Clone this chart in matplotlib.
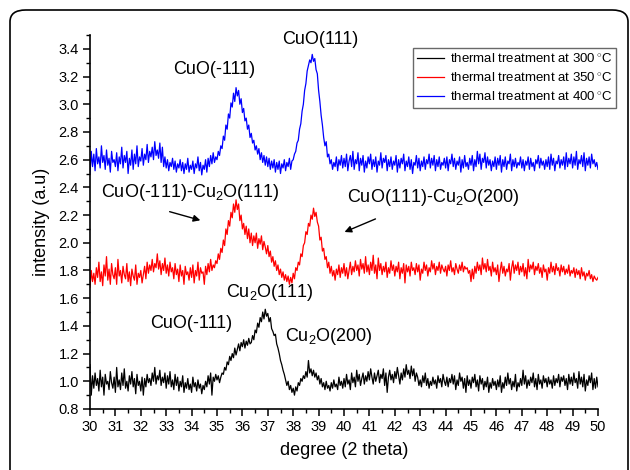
import numpy as np
import matplotlib
matplotlib.use("Agg")
import matplotlib.pyplot as plt
from matplotlib.patches import FancyBboxPatch
from matplotlib.ticker import MultipleLocator

plt.rcParams['font.family'] = ['Liberation Sans', 'DejaVu Sans']
plt.rcParams['mathtext.fontset'] = 'custom'
plt.rcParams['mathtext.rm'] = 'Liberation Sans'
plt.rcParams['mathtext.it'] = 'Liberation Sans:italic'
plt.rcParams['mathtext.bf'] = 'Liberation Sans:bold'

# 2-theta grid: 30..50 deg, step 0.05
two_theta = np.linspace(30, 50, 401)

int_300 = [
    1.12, 0.90, 1.04, 0.95, 1.06, 0.97, 1.02, 0.93, 1.08, 0.96, 1.03, 0.90, 1.05, 0.98, 1.00, 0.94, 1.07, 0.99, 0.95, 1.03,
    0.92, 1.10, 0.96, 1.01, 0.94, 1.06, 0.97, 1.09, 0.95, 1.00, 0.93, 1.04, 0.98, 1.07, 0.96, 1.02, 0.91, 1.05, 0.97, 1.00,
    0.93, 1.03, 0.90, 1.02, 0.96, 1.05, 0.99, 1.02, 0.97, 1.06, 1.00, 1.10, 0.98, 1.04, 1.01, 1.08, 0.97, 1.03, 0.99, 1.06,
    0.95, 1.04, 0.98, 1.07, 0.96, 1.01, 0.94, 1.05, 0.97, 1.03, 0.93, 1.00, 0.96, 1.04, 0.92, 0.99, 0.95, 1.02, 0.94, 0.98,
    0.92, 1.03, 0.96, 0.99, 0.93, 1.01, 0.95, 0.98, 0.91, 0.97, 0.94, 1.00, 0.96, 1.04, 0.98, 1.06, 0.90, 1.03, 1.00, 1.05,
    1.01, 1.04, 0.99, 1.03, 1.06, 1.05, 1.10, 1.08, 1.14, 1.12, 1.18, 1.15, 1.20, 1.17, 1.24, 1.19, 1.23, 1.27, 1.22, 1.28,
    1.25, 1.30, 1.24, 1.29, 1.26, 1.31, 1.27, 1.28, 1.33, 1.30, 1.37, 1.35, 1.42, 1.39, 1.46, 1.43, 1.50, 1.45, 1.52, 1.47,
    1.49, 1.43, 1.46, 1.38, 1.36, 1.33, 1.34, 1.27, 1.24, 1.20, 1.15, 1.12, 1.08, 1.05, 1.01, 0.97, 1.00, 0.94, 0.97, 0.92,
    0.95, 0.90, 0.96, 0.93, 0.99, 0.97, 1.02, 1.00, 1.04, 1.02, 1.07, 1.03, 1.15, 1.06, 1.09, 1.04, 1.08, 1.03, 1.06, 1.01,
    1.04, 0.98, 1.02, 0.96, 0.99, 0.94, 1.00, 0.95, 0.97, 0.93, 0.99, 0.95, 1.01, 0.96, 0.98, 0.94, 1.03, 0.97, 1.00, 0.95,
    1.02, 0.96, 1.05, 0.98, 1.01, 0.94, 1.06, 0.99, 1.03, 0.96, 1.08, 1.00, 1.05, 0.97, 1.02, 1.06, 0.98, 1.04, 1.00, 1.07,
    1.01, 1.09, 1.03, 0.98, 1.06, 1.00, 1.04, 1.08, 0.99, 1.05, 1.02, 1.09, 0.97, 1.06, 0.92, 1.03, 1.08, 1.01, 1.05, 0.99,
    1.07, 1.02, 1.10, 1.04, 0.98, 1.06, 1.01, 1.09, 1.03, 1.12, 1.05, 1.08, 1.02, 1.11, 1.04, 1.09, 1.00, 1.06, 1.03, 0.97,
    1.01, 0.96, 1.04, 0.99, 1.06, 0.97, 1.02, 0.95, 1.00, 0.97, 1.03, 0.98, 1.01, 0.95, 1.04, 0.99, 1.02, 0.96, 1.05, 1.00,
    0.97, 1.03, 0.96, 1.02, 0.99, 1.05, 0.98, 1.04, 0.94, 1.01, 0.97, 1.06, 1.00, 1.03, 0.95, 1.02, 0.92, 1.04, 0.97, 1.01,
    0.95, 1.03, 0.99, 1.05, 0.96, 1.01, 0.93, 1.04, 0.98, 1.02, 0.94, 1.00, 0.96, 1.03, 0.92, 0.99, 0.95, 1.02, 0.97, 1.00,
    0.94, 1.01, 0.96, 1.04, 0.92, 0.99, 0.95, 1.03, 0.97, 1.06, 0.98, 1.02, 0.94, 1.00, 0.96, 1.05, 0.93, 0.99, 0.96, 1.02,
    0.97, 1.08, 0.98, 1.04, 0.95, 1.01, 0.97, 1.03, 0.99, 1.06, 0.96, 1.02, 0.94, 1.05, 0.98, 1.01, 0.95, 1.04, 0.99, 1.02,
    0.96, 1.03, 0.98, 1.01, 0.95, 1.04, 0.97, 1.02, 0.99, 1.05, 0.96, 1.03, 1.00, 1.04, 0.97, 1.02, 0.94, 1.05, 0.98, 1.03,
    0.97, 1.06, 0.99, 1.02, 0.95, 1.07, 0.98, 1.03, 0.96, 1.05, 0.93, 1.01, 0.97, 1.04, 0.99, 1.06, 0.94, 1.02, 0.95, 1.03,
    0.96,
]

int_350 = [
    1.68, 1.80, 1.72, 1.78, 1.70, 1.82, 1.75, 1.86, 1.72, 1.79, 1.69, 1.84, 1.76, 1.90, 1.73, 1.81, 1.70, 1.85, 1.77, 1.74,
    1.82, 1.70, 1.88, 1.76, 1.80, 1.71, 1.83, 1.77, 1.74, 1.85, 1.72, 1.79, 1.69, 1.81, 1.76, 1.73, 1.84, 1.70, 1.78, 1.75,
    1.80, 1.71, 1.77, 1.83, 1.74, 1.86, 1.78, 1.84, 1.80, 1.88, 1.79, 1.85, 1.82, 1.92, 1.81, 1.87, 1.77, 1.85, 1.80, 1.89,
    1.78, 1.84, 1.76, 1.86, 1.79, 1.82, 1.74, 1.85, 1.77, 1.81, 1.72, 1.84, 1.76, 1.80, 1.70, 1.83, 1.77, 1.79, 1.73, 1.82,
    1.75, 1.84, 1.71, 1.80, 1.76, 1.86, 1.73, 1.82, 1.78, 1.79, 1.70, 1.83, 1.77, 1.85, 1.79, 1.88, 1.80, 1.84, 1.82, 1.87,
    1.85, 1.92, 1.88, 1.96, 1.93, 2.02, 1.98, 2.10, 2.06, 2.16, 2.12, 2.22, 2.18, 2.28, 2.22, 2.31, 2.24, 2.28, 2.16, 2.20,
    2.10, 2.14, 2.06, 2.12, 2.03, 2.10, 2.00, 2.07, 1.98, 2.05, 2.00, 2.07, 1.96, 2.03, 1.99, 2.05, 1.95, 2.01, 1.97, 1.92,
    1.98, 1.90, 1.94, 1.86, 1.90, 1.83, 1.87, 1.80, 1.84, 1.77, 1.81, 1.75, 1.79, 1.73, 1.77, 1.72, 1.76, 1.70, 1.75, 1.71,
    1.78, 1.74, 1.82, 1.80, 1.86, 1.84, 1.92, 1.90, 1.98, 2.00, 2.08, 2.06, 2.14, 2.12, 2.20, 2.17, 2.25, 2.19, 2.22, 2.15,
    2.12, 2.02, 2.04, 1.94, 1.96, 1.88, 1.90, 1.82, 1.86, 1.78, 1.83, 1.76, 1.80, 1.73, 1.81, 1.77, 1.84, 1.75, 1.82, 1.78,
    1.85, 1.76, 1.82, 1.74, 1.80, 1.86, 1.77, 1.83, 1.79, 1.87, 1.80, 1.84, 1.76, 1.88, 1.81, 1.85, 1.78, 1.90, 1.79, 1.84,
    1.77, 1.86, 1.80, 1.91, 1.78, 1.84, 1.74, 1.89, 1.80, 1.85, 1.77, 1.83, 1.79, 1.86, 1.75, 1.82, 1.78, 1.87, 1.80, 1.84,
    1.76, 1.83, 1.79, 1.86, 1.74, 1.82, 1.78, 1.85, 1.71, 1.84, 1.79, 1.83, 1.76, 1.86, 1.80, 1.82, 1.77, 1.85, 1.79, 1.84,
    1.73, 1.81, 1.78, 1.86, 1.80, 1.84, 1.76, 1.82, 1.79, 1.87, 1.81, 1.85, 1.77, 1.83, 1.80, 1.86, 1.78, 1.84, 1.81, 1.79,
    1.83, 1.76, 1.84, 1.80, 1.87, 1.79, 1.82, 1.77, 1.85, 1.81, 1.78, 1.84, 1.80, 1.86, 1.79, 1.83, 1.81, 1.82, 1.78, 1.80,
    1.72, 1.81, 1.74, 1.83, 1.78, 1.86, 1.80, 1.84, 1.77, 1.89, 1.81, 1.85, 1.79, 1.88, 1.80, 1.83, 1.76, 1.86, 1.79, 1.82,
    1.77, 1.84, 1.72, 1.80, 1.86, 1.78, 1.83, 1.76, 1.81, 1.79, 1.85, 1.73, 1.82, 1.87, 1.78, 1.84, 1.80, 1.86, 1.77, 1.83,
    1.79, 1.85, 1.76, 1.82, 1.74, 1.88, 1.79, 1.84, 1.81, 1.86, 1.77, 1.83, 1.80, 1.85, 1.78, 1.82, 1.75, 1.84, 1.79, 1.81,
    1.73, 1.82, 1.78, 1.86, 1.79, 1.83, 1.77, 1.85, 1.80, 1.82, 1.76, 1.84, 1.79, 1.83, 1.77, 1.81, 1.78, 1.84, 1.76, 1.80,
    1.78, 1.82, 1.75, 1.81, 1.77, 1.80, 1.74, 1.82, 1.76, 1.79, 1.73, 1.78, 1.76, 1.80, 1.74, 1.77, 1.72, 1.76, 1.74, 1.73,
    1.75,
]

int_400 = [
    2.50, 2.66, 2.55, 2.64, 2.52, 2.68, 2.57, 2.62, 2.54, 2.70, 2.58, 2.63, 2.53, 2.67, 2.56, 2.61, 2.51, 2.66, 2.58, 2.60,
    2.55, 2.65, 2.52, 2.62, 2.57, 2.69, 2.54, 2.63, 2.58, 2.66, 2.50, 2.61, 2.56, 2.67, 2.53, 2.64, 2.57, 2.70, 2.55, 2.62,
    2.59, 2.68, 2.56, 2.64, 2.60, 2.71, 2.58, 2.66, 2.62, 2.69, 2.60, 2.73, 2.63, 2.67, 2.61, 2.72, 2.58, 2.69, 2.55, 2.62,
    2.54, 2.60, 2.52, 2.58, 2.55, 2.61, 2.53, 2.59, 2.51, 2.57, 2.54, 2.60, 2.52, 2.58, 2.50, 2.57, 2.53, 2.61, 2.51, 2.56,
    2.53, 2.59, 2.50, 2.57, 2.54, 2.62, 2.52, 2.58, 2.49, 2.56, 2.53, 2.60, 2.51, 2.61, 2.55, 2.63, 2.57, 2.65, 2.58, 2.62,
    2.60, 2.66, 2.63, 2.70, 2.68, 2.77, 2.74, 2.85, 2.82, 2.93, 2.90, 3.01, 2.98, 3.08, 3.02, 3.12, 3.06, 3.10, 3.00, 3.04,
    2.94, 2.97, 2.88, 2.90, 2.82, 2.85, 2.76, 2.79, 2.72, 2.74, 2.67, 2.70, 2.64, 2.68, 2.60, 2.65, 2.58, 2.63, 2.56, 2.62,
    2.55, 2.61, 2.53, 2.59, 2.54, 2.60, 2.51, 2.58, 2.53, 2.59, 2.50, 2.57, 2.54, 2.60, 2.52, 2.58, 2.55, 2.61, 2.53, 2.59,
    2.60, 2.64, 2.66, 2.72, 2.74, 2.82, 2.86, 2.95, 3.00, 3.10, 3.15, 3.24, 3.28, 3.32, 3.30, 3.36, 3.31, 3.33, 3.25, 3.22,
    3.10, 3.02, 2.92, 2.85, 2.76, 2.70, 2.73, 2.62, 2.64, 2.57, 2.60, 2.53, 2.58, 2.55, 2.62, 2.52, 2.60, 2.56, 2.63, 2.54,
    2.61, 2.55, 2.64, 2.52, 2.59, 2.63, 2.55, 2.66, 2.53, 2.60, 2.57, 2.65, 2.52, 2.61, 2.56, 2.63, 2.51, 2.59, 2.54, 2.62,
    2.57, 2.64, 2.53, 2.60, 2.55, 2.62, 2.51, 2.59, 2.56, 2.65, 2.54, 2.61, 2.58, 2.63, 2.52, 2.60, 2.55, 2.62, 2.53, 2.59,
    2.56, 2.63, 2.51, 2.60, 2.54, 2.61, 2.57, 2.64, 2.52, 2.59, 2.55, 2.62, 2.53, 2.60, 2.50, 2.58, 2.56, 2.63, 2.54, 2.61,
    2.52, 2.59, 2.55, 2.62, 2.53, 2.60, 2.57, 2.64, 2.54, 2.61, 2.56, 2.63, 2.52, 2.60, 2.55, 2.62, 2.53, 2.58, 2.56, 2.61,
    2.54, 2.62, 2.52, 2.60, 2.57, 2.64, 2.55, 2.61, 2.53, 2.59, 2.56, 2.62, 2.51, 2.60, 2.54, 2.63, 2.55, 2.58, 2.53, 2.61,
    2.56, 2.63, 2.52, 2.60, 2.55, 2.66, 2.57, 2.64, 2.53, 2.61, 2.58, 2.65, 2.54, 2.62, 2.56, 2.60, 2.52, 2.59, 2.55, 2.62,
    2.53, 2.61, 2.56, 2.63, 2.51, 2.60, 2.55, 2.62, 2.53, 2.59, 2.57, 2.64, 2.52, 2.60, 2.55, 2.61, 2.54, 2.58, 2.56, 2.62,
    2.54, 2.60, 2.52, 2.59, 2.56, 2.62, 2.53, 2.61, 2.55, 2.58, 2.52, 2.60, 2.57, 2.63, 2.54, 2.61, 2.56, 2.59, 2.53, 2.60,
    2.55, 2.62, 2.53, 2.64, 2.56, 2.61, 2.52, 2.59, 2.57, 2.63, 2.54, 2.60, 2.56, 2.62, 2.53, 2.65, 2.55, 2.61, 2.57, 2.64,
    2.54, 2.62, 2.56, 2.66, 2.53, 2.60, 2.57, 2.63, 2.55, 2.65, 2.52, 2.61, 2.56, 2.62, 2.54, 2.64, 2.57, 2.60, 2.55, 2.58,
    2.53,
]

labels = ["thermal treatment at 300$\\,^{\\circ}$C",
          "thermal treatment at 350$\\,^{\\circ}$C",
          "thermal treatment at 400$\\,^{\\circ}$C"]
colors = ["black", "red", "blue"]

fig = plt.figure(figsize=(6.3, 4.7), dpi=100)
ax = fig.add_axes([90/630, 1-409/470, (598-90)/630, (409-35)/470])

# rounded panel frame
frame = FancyBboxPatch((10/630, -0.05), 618/630, (470-10)/470 + 0.05,
                       boxstyle="round,pad=0,rounding_size=0.025",
                       transform=fig.transFigure, fill=False,
                       edgecolor="black", linewidth=1.2, clip_on=False)
fig.patches.append(frame)

for y, c, lab in zip([int_300, int_350, int_400], colors, labels):
    ax.plot(two_theta, y, color=c, lw=0.9, label=lab)

ax.set_xlim(30, 50)
ax.set_ylim(0.8, 3.5)
ax.xaxis.set_major_locator(MultipleLocator(1))
ax.xaxis.set_minor_locator(MultipleLocator(0.5))
yt = np.arange(0.8, 3.41, 0.2)
ax.set_yticks(yt)
ax.yaxis.set_minor_locator(MultipleLocator(0.1))
ax.set_yticklabels([f"{v:.1f}" for v in yt])
ax.spines['top'].set_visible(False)
ax.spines['right'].set_visible(False)
for s in ['left', 'bottom']:
    ax.spines[s].set_linewidth(1.2)
ax.tick_params(which='major', direction='out', length=5, width=1.1, labelsize=10.5, pad=3)
ax.tick_params(which='minor', direction='out', length=3, width=1.0)

ax.set_xlabel("degree (2 theta)", fontsize=13, labelpad=6)
ax.set_ylabel("intensity (a.u)", fontsize=13, labelpad=6)

leg = ax.legend(loc='upper right', bbox_to_anchor=(1.035, 0.965), fontsize=9.5,
                frameon=True, fancybox=False, edgecolor='#444444',
                handlelength=2.1, handletextpad=0.4, borderpad=0.3,
                labelspacing=0.4, borderaxespad=0.0)
leg.get_frame().set_linewidth(1.0)

fs = 13
ax.text(39.06, 3.47, "CuO(111)", fontsize=fs, ha='center', va='center')
ax.text(34.9, 3.25, "CuO(-111)", fontsize=fs, ha='center', va='center')
ax.text(33.94, 2.36, "CuO(-111)-Cu$_2$O(111)", fontsize=fs, ha='center', va='center')
ax.text(43.5, 2.33, "CuO(111)-Cu$_2$O(200)", fontsize=fs, ha='center', va='center')
ax.text(37.09, 1.64, "Cu$_2$O(111)", fontsize=fs, ha='center', va='center')
ax.text(34.0, 1.42, "CuO(-111)", fontsize=fs, ha='center', va='center')
ax.text(39.4, 1.32, "Cu$_2$O(200)", fontsize=fs, ha='center', va='center')

arrow = dict(arrowstyle='-|>', color='black', lw=1.0, mutation_scale=10)
ax.annotate("", xy=(34.45, 2.157), xytext=(33.03, 2.23), arrowprops=arrow)
ax.annotate("", xy=(39.92, 2.07), xytext=(41.34, 2.18), arrowprops=arrow)

fig.savefig("out.png", dpi=100)
